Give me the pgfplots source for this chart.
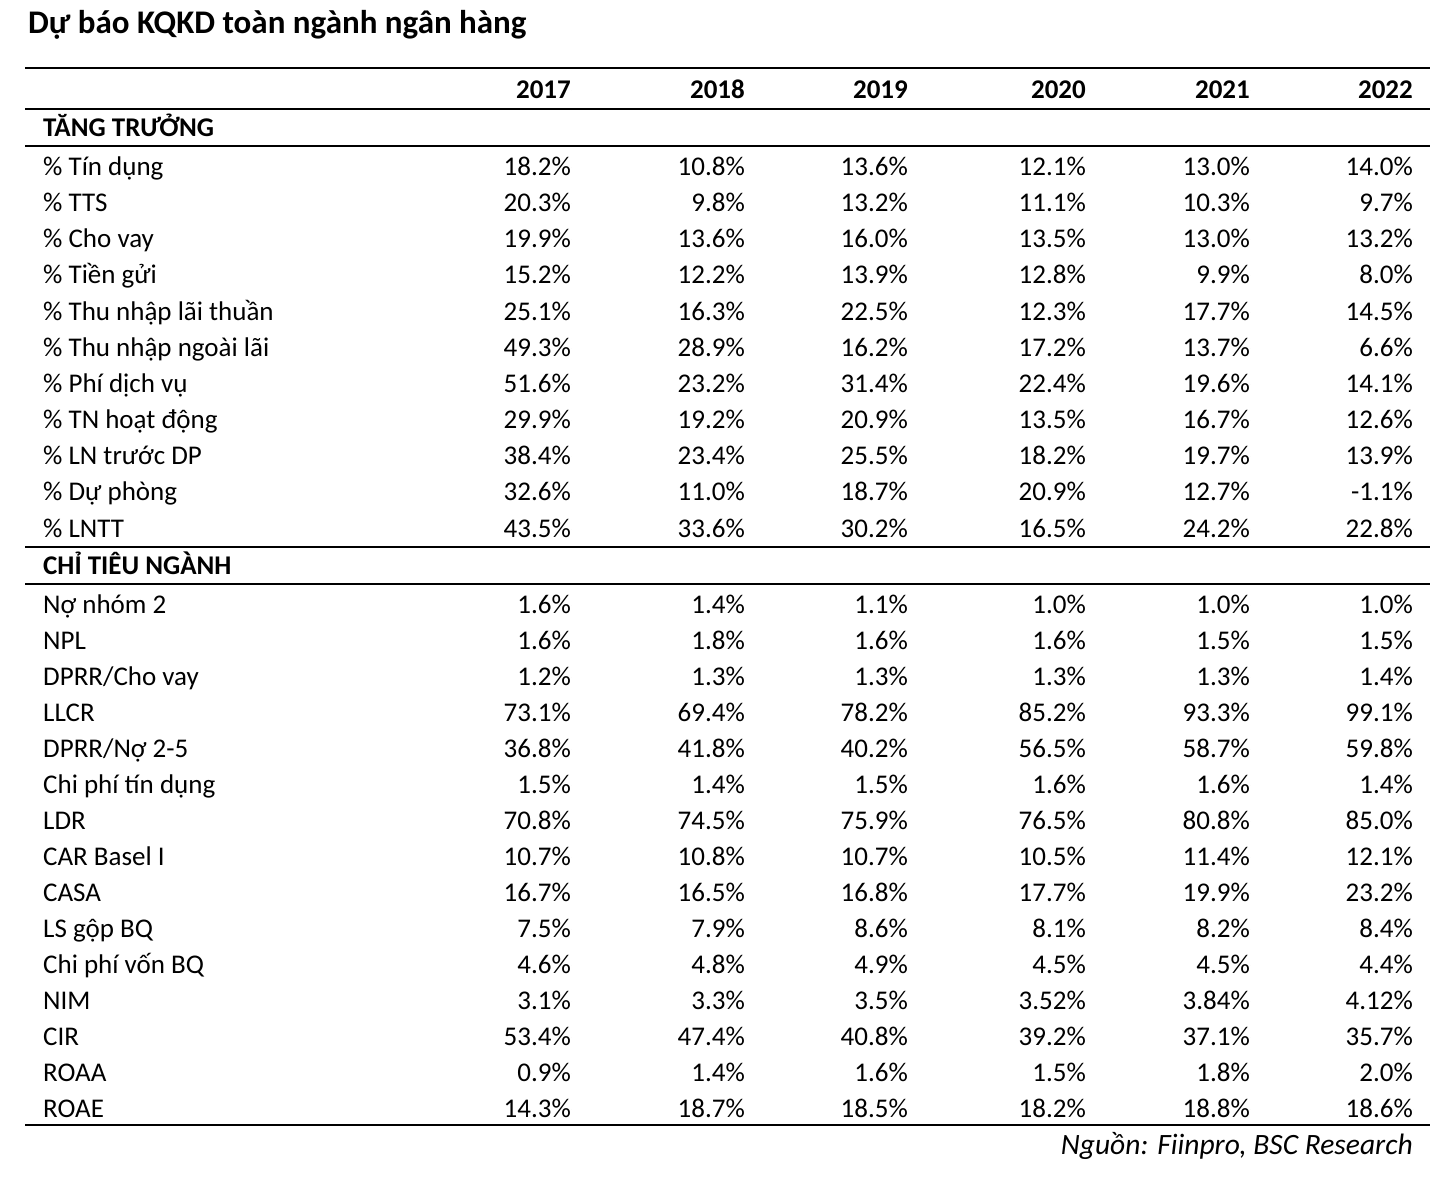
\documentclass[border=0pt]{standalone}
\usepackage{fontspec}
\setmainfont{Carlito}
\usepackage{pgfplots}
\usepackage{pgfplotstable}
\pgfplotsset{compat=1.18}

\pgfplotstableread[col sep=semicolon,row sep=\\]{
y;label;a;b;c;d;e;f\\
167;\% Tín dụng;18.2;10.8;13.6;12.1;13.0;14.0\\
203;\% TTS;20.3;9.8;13.2;11.1;10.3;9.7\\
239;\% Cho vay;19.9;13.6;16.0;13.5;13.0;13.2\\
275;\% Tiền gửi;15.2;12.2;13.9;12.8;9.9;8.0\\
312;\% Thu nhập lãi thuần;25.1;16.3;22.5;12.3;17.7;14.5\\
348;\% Thu nhập ngoài lãi;49.3;28.9;16.2;17.2;13.7;6.6\\
384;\% Phí dịch vụ;51.6;23.2;31.4;22.4;19.6;14.1\\
420;\% TN hoạt động;29.9;19.2;20.9;13.5;16.7;12.6\\
456;\% LN trước DP;38.4;23.4;25.5;18.2;19.7;13.9\\
492;\% Dự phòng;32.6;11.0;18.7;20.9;12.7;-1.1\\
529;\% LNTT;43.5;33.6;30.2;16.5;24.2;22.8\\
605;Nợ nhóm 2;1.6;1.4;1.1;1.0;1.0;1.0\\
641;NPL;1.6;1.8;1.6;1.6;1.5;1.5\\
677;DPRR/Cho vay;1.2;1.3;1.3;1.3;1.3;1.4\\
713;LLCR;73.1;69.4;78.2;85.2;93.3;99.1\\
749;DPRR/Nợ 2-5;36.8;41.8;40.2;56.5;58.7;59.8\\
785;Chi phí tín dụng;1.5;1.4;1.5;1.6;1.6;1.4\\
821;LDR;70.8;74.5;75.9;76.5;80.8;85.0\\
857;CAR Basel I;10.7;10.8;10.7;10.5;11.4;12.1\\
893;CASA;16.7;16.5;16.8;17.7;19.9;23.2\\
929;LS gộp BQ;7.5;7.9;8.6;8.1;8.2;8.4\\
965;Chi phí vốn BQ;4.6;4.8;4.9;4.5;4.5;4.4\\
1001;NIM;3.1;3.3;3.5;3.52;3.84;4.12\\
1037;CIR;53.4;47.4;40.8;39.2;37.1;35.7\\
1073;ROAA;0.9;1.4;1.6;1.5;1.8;2.0\\
1109;ROAE;14.3;18.7;18.5;18.2;18.8;18.6\\
}\datatable

\pgfplotstableread[col sep=semicolon,row sep=\\]{
x;y;label\\
571;90;2017\\
745;90;2018\\
908;90;2019\\
1086;90;2020\\
1250;90;2021\\
1413;90;2022\\
}\headtable

\pgfplotstableread[col sep=semicolon,row sep=\\]{
x;y;label\\
43;128;TĂNG TRƯỞNG\\
43;566;CHỈ TIÊU NGÀNH\\
}\sectable

\begin{document}
\begin{tikzpicture}
\begin{axis}[
  scale only axis, width=1452pt, height=1178pt,
  xmin=0, xmax=1452, ymin=0, ymax=1178, y dir=reverse,
  hide axis, clip=false,
  point meta=explicit symbolic,
  txt/.style={only marks, mark=*, mark size=0pt, mark options={draw=none,fill=none},
    nodes near coords, nodes near coords style={inner sep=0pt, text=black, yshift=-8.5pt}},
]
% invisible frame
\addplot[draw=none, mark=none] coordinates {(0,0) (1452,1178)};
% rules
\addplot[black, line width=1.4pt, mark=none] coordinates {(25,68) (1430,68)};
\addplot[black, line width=1.2pt, mark=none] coordinates {(25,109) (1430,109)};
\addplot[black, line width=1.2pt, mark=none] coordinates {(25,146) (1430,146)};
\addplot[black, line width=1.2pt, mark=none] coordinates {(25,547) (1430,547)};
\addplot[black, line width=1.2pt, mark=none] coordinates {(25,584) (1430,584)};
\addplot[black, line width=1.4pt, mark=none] coordinates {(25,1125) (1430,1125)};
% title
\addplot[txt, nodes near coords={\pgfplotspointmeta},
  nodes near coords style={font=\fontsize{33}{40}\selectfont\bfseries, anchor=base west}]
  coordinates {(28,25) [{Dự báo KQKD toàn ngành ngân hàng}]};
% source
\addplot[txt, nodes near coords={\pgfplotspointmeta},
  nodes near coords style={font=\fontsize{29.5}{35}\selectfont\itshape, anchor=base east}]
  coordinates {(1413,1146) [{Nguồn: Fiinpro, BSC Research}]};
% headers
\addplot[txt, nodes near coords={\pgfplotspointmeta},
  nodes near coords style={font=\fontsize{27}{32}\selectfont\bfseries, anchor=base east}]
  table[x=x, y=y, meta=label] {\headtable};
\addplot[txt, nodes near coords={\pgfplotspointmeta},
  nodes near coords style={font=\fontsize{27}{32}\selectfont\bfseries, anchor=base west}]
  table[x=x, y=y, meta=label] {\sectable};
% row labels
\addplot[txt, nodes near coords={\pgfplotspointmeta},
  nodes near coords style={font=\fontsize{27}{32}\selectfont, anchor=base west}]
  table[x expr=43, y=y, meta=label] {\datatable};
% values
\addplot[txt, nodes near coords={\pgfplotspointmeta\%},
  nodes near coords style={font=\fontsize{27}{32}\selectfont, anchor=base east}]
  table[x expr=571, y=y, meta=a] {\datatable};
\addplot[txt, nodes near coords={\pgfplotspointmeta\%},
  nodes near coords style={font=\fontsize{27}{32}\selectfont, anchor=base east}]
  table[x expr=745, y=y, meta=b] {\datatable};
\addplot[txt, nodes near coords={\pgfplotspointmeta\%},
  nodes near coords style={font=\fontsize{27}{32}\selectfont, anchor=base east}]
  table[x expr=908, y=y, meta=c] {\datatable};
\addplot[txt, nodes near coords={\pgfplotspointmeta\%},
  nodes near coords style={font=\fontsize{27}{32}\selectfont, anchor=base east}]
  table[x expr=1086, y=y, meta=d] {\datatable};
\addplot[txt, nodes near coords={\pgfplotspointmeta\%},
  nodes near coords style={font=\fontsize{27}{32}\selectfont, anchor=base east}]
  table[x expr=1250, y=y, meta=e] {\datatable};
\addplot[txt, nodes near coords={\pgfplotspointmeta\%},
  nodes near coords style={font=\fontsize{27}{32}\selectfont, anchor=base east}]
  table[x expr=1413, y=y, meta=f] {\datatable};
\end{axis}
\end{tikzpicture}
\end{document}
